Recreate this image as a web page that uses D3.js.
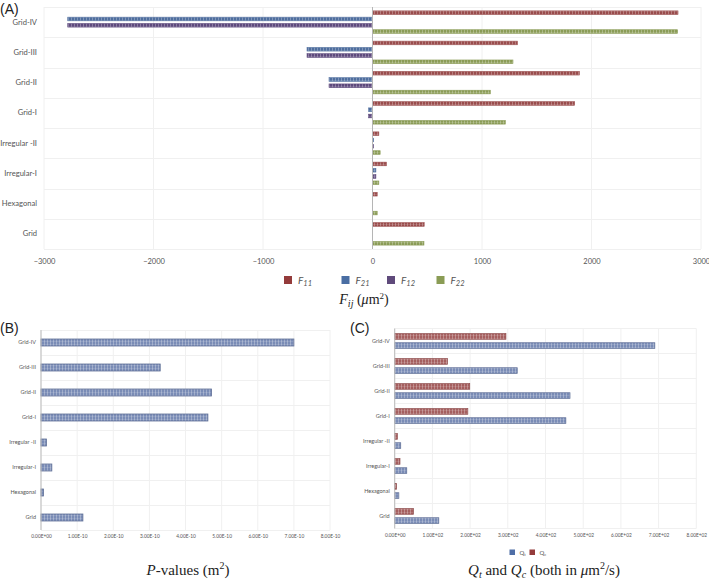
<!DOCTYPE html>
<html><head><meta charset="utf-8">
<script src="https://cdn.jsdelivr.net/npm/d3@7"></script>
<style>body{margin:0;background:#fff}svg{display:block}</style>
</head><body>
<svg id="c" width="709" height="581"></svg>
<script>
const categories = ["Grid-IV","Grid-III","Grid-II","Grid-I","Irregular -II","Irregular-I","Hexagonal","Grid"];
const F11 = [2790, 1323, 1889, 1846, 58, 128, 43, 472];
const F21 = [-2783, -598, -397, -35, 10, 31, 0, 0];
const F12 = [-2783, -598, -397, -35, 9, 31, 0, 0];
const F22 = [2787, 1283, 1076, 1213, 70, 58, 43, 470];
const Pvalues = [7.00e-10, 3.30e-10, 4.72e-10, 4.62e-10, 0.15e-10, 0.30e-10, 0.07e-10, 1.16e-10];
const Qt = [690, 325, 465, 454, 16, 32, 11, 117];
const Qc = [295, 140, 199, 194, 7, 14, 5, 50];
const ticksA = [-3000,-2000,-1000,0,1000,2000,3000];
const ticksB = [0,1e-10,2e-10,3e-10,4e-10,5e-10,6e-10,7e-10,8e-10];
const ticksC = [0,100,200,300,400,500,600,700,800];

const colors = {F11:"#9a4d4d", F21:"#4f6e9e", F12:"#5e4a7d", F22:"#8b9c57", blue:"#7a8cb6", red:"#a55f5f"};
const legendColors = {F11:"#943b3b", F21:"#4a6ea3", F12:"#5f4a7b", F22:"#8a9c55"};

const svg = d3.select("#c");
const defs = svg.append("defs");
function pat(id, col){
  const p = defs.append("pattern").attr("id",id).attr("patternUnits","userSpaceOnUse").attr("width",3).attr("height",3);
  p.append("rect").attr("width",3).attr("height",3).attr("fill",col);
  p.append("rect").attr("x",2).attr("width",1).attr("height",3).attr("fill","#fff").attr("opacity",0.28);
  p.append("rect").attr("y",2).attr("width",3).attr("height",1).attr("fill","#fff").attr("opacity",0.12);
}
Object.keys(colors).forEach(k=>pat("p"+k, colors[k]));

const sans = "Lato, 'Open Sans', sans-serif";
const serif = "'Liberation Serif', 'DejaVu Serif', serif";

// ---------- Panel A ----------
const xA = d3.scaleLinear().domain([-3000,3000]).range([44,701]);
const yA = d3.scaleBand().domain(categories).range([7,249]);
const seriesA = ["F11","F21","F12","F22"];
const valsA = {F11, F21, F12, F22};
const subA = d3.scaleBand().domain(seriesA).range([0,yA.bandwidth()]).paddingInner(0.42).paddingOuter(0.62);
const gA = svg.append("g");
gA.selectAll(".vg").data(ticksA).join("line").attr("x1",d=>xA(d)).attr("x2",d=>xA(d)).attr("y1",7).attr("y2",249).attr("stroke","#f0f0f0");
gA.selectAll(".hg").data(d3.range(categories.length+1)).join("line")
  .attr("x1",44).attr("x2",701).attr("y1",i=>Math.round(7+i*yA.step())+0.5).attr("y2",i=>Math.round(7+i*yA.step())+0.5).attr("stroke","#f0f0f0");
seriesA.forEach(s=>{
  gA.selectAll(".b"+s).data(categories).join("rect")
    .attr("x",(d,i)=>xA(Math.min(0,valsA[s][i])))
    .attr("width",(d,i)=>Math.abs(xA(valsA[s][i])-xA(0)))
    .attr("y",d=>yA(d)+subA(s)).attr("height",subA.bandwidth())
    .attr("fill","url(#p"+s+")").attr("stroke",colors[s]).attr("stroke-width",0.6)
    .style("display",(d,i)=>valsA[s][i]===0?"none":null);
});
gA.append("line").attr("x1",xA(0)).attr("x2",xA(0)).attr("y1",7).attr("y2",249).attr("stroke","#b5b5b5").attr("stroke-width",1);
const axA = gA.append("g").attr("transform","translate(0,249)").call(d3.axisBottom(xA).tickValues(ticksA).tickSize(0).tickPadding(10).tickFormat(d3.format("d")));
axA.select(".domain").remove();
axA.selectAll("text").attr("font-family",sans).attr("font-size",7.5).attr("fill","#555");
const ayA = gA.append("g").attr("transform","translate(44,0)").call(d3.axisLeft(yA).tickSize(0).tickPadding(7));
ayA.select(".domain").remove();
ayA.selectAll("text").attr("font-family",sans).attr("font-size",7.6).attr("fill","#555");
svg.append("text").attr("x",0).attr("y",14).text("(A)").attr("font-family","'Liberation Sans', Arial, sans-serif").attr("font-size",14).attr("fill","#222");
const legA = [{s:"F11",x:284,sub:"11"},{s:"F21",x:341.5,sub:"21"},{s:"F12",x:387,sub:"12"},{s:"F22",x:436.5,sub:"22"}];
legA.forEach(l=>{
  svg.append("rect").attr("x",l.x).attr("y",276).attr("width",8).attr("height",8).attr("fill",legendColors[l.s]);
  const t = svg.append("text").attr("x",l.x+14).attr("y",284).attr("font-family",sans).attr("font-style","italic").attr("font-size",10).attr("fill","#555");
  t.append("tspan").text("F");
  t.append("tspan").attr("font-size",7.5).attr("dy",1.5).text(l.sub);
});
const tA = svg.append("text").attr("x",364).attr("y",304).attr("text-anchor","middle").attr("font-family",serif).attr("font-size",14).attr("fill","#222");
tA.append("tspan").attr("font-style","italic").text("F");
tA.append("tspan").attr("font-style","italic").attr("font-size",10).attr("dy",3).text("ij");
tA.append("tspan").attr("dy",-3).text(" (");
tA.append("tspan").attr("font-style","italic").text("μ");
tA.append("tspan").text("m");
tA.append("tspan").attr("font-size",9).attr("dy",-5).text("2");
tA.append("tspan").attr("dy",5).text(")");

// ---------- Panel B ----------
const xB = d3.scaleLinear().domain([0,8e-10]).range([41,330]);
const yB = d3.scaleBand().domain(categories).range([330,530]);
const gB = svg.append("g");
gB.selectAll(".vg").data(ticksB).join("line").attr("x1",d=>xB(d)).attr("x2",d=>xB(d)).attr("y1",330).attr("y2",530).attr("stroke","#f0f0f0");
gB.selectAll(".hg").data(d3.range(categories.length+1)).join("line")
  .attr("x1",41).attr("x2",330).attr("y1",i=>330.5+i*yB.step()).attr("y2",i=>330.5+i*yB.step()).attr("stroke","#f0f0f0");
const bhB = yB.bandwidth()*0.28;
gB.selectAll(".bar").data(categories).join("rect")
  .attr("x",xB(0)).attr("width",(d,i)=>xB(Pvalues[i])-xB(0))
  .attr("y",d=>yB(d)+yB.bandwidth()/2-bhB/2).attr("height",bhB)
  .attr("fill","url(#pblue)").attr("stroke","#5f6f96").attr("stroke-width",0.8);
gB.append("line").attr("x1",41).attr("x2",41).attr("y1",330).attr("y2",530).attr("stroke","#bbb");
const fmtB = d=> d===0 ? "0.00E+00" : (d/1e-10).toFixed(2)+"E-10";
const axB = gB.append("g").attr("transform","translate(0,530)").call(d3.axisBottom(xB).tickValues(ticksB).tickSize(0).tickPadding(5).tickFormat(fmtB));
axB.select(".domain").remove();
axB.selectAll("text").attr("font-family",sans).attr("font-size",4.8).attr("fill","#555");
const ayB = gB.append("g").attr("transform","translate(41,0)").call(d3.axisLeft(yB).tickSize(0).tickPadding(5));
ayB.select(".domain").remove();
ayB.selectAll("text").attr("font-family",sans).attr("font-size",5.5).attr("fill","#555");
svg.append("text").attr("x",0).attr("y",333).text("(B)").attr("font-family","'Liberation Sans', Arial, sans-serif").attr("font-size",14).attr("fill","#222");
const tB = svg.append("text").attr("x",188).attr("y",575).attr("text-anchor","middle").attr("font-family",serif).attr("font-size",15).attr("fill","#222");
tB.append("tspan").attr("font-style","italic").text("P");
tB.append("tspan").text("-values (m");
tB.append("tspan").attr("font-size",10).attr("dy",-6).text("2");
tB.append("tspan").attr("dy",6).text(")");

// ---------- Panel C ----------
const xC = d3.scaleLinear().domain([0,800]).range([394.7,696.3]);
const yC = d3.scaleBand().domain(categories).range([328.5,528.5]);
const subC = d3.scaleBand().domain(["Qc","Qt"]).range([0,yC.bandwidth()]).paddingInner(0.38).paddingOuter(0.56);
const gC = svg.append("g");
gC.selectAll(".vg").data(ticksC).join("line").attr("x1",d=>xC(d)).attr("x2",d=>xC(d)).attr("y1",328.5).attr("y2",528.5).attr("stroke","#f0f0f0");
gC.selectAll(".hg").data(d3.range(categories.length+1)).join("line")
  .attr("x1",394.7).attr("x2",696.3).attr("y1",i=>328.5+i*yC.step()).attr("y2",i=>328.5+i*yC.step()).attr("stroke","#f0f0f0");
const valsC = {Qc, Qt};
[["Qc","pred","#8e4c4c"],["Qt","pblue","#5f6f96"]].forEach(([s,p,st])=>{
  gC.selectAll(".b"+s).data(categories).join("rect")
    .attr("x",xC(0)).attr("width",(d,i)=>xC(valsC[s][i])-xC(0))
    .attr("y",d=>yC(d)+subC(s)).attr("height",subC.bandwidth())
    .attr("fill","url(#"+p+")").attr("stroke",st).attr("stroke-width",0.7);
});
gC.append("line").attr("x1",394.7).attr("x2",394.7).attr("y1",328.5).attr("y2",528.5).attr("stroke","#bbb");
const fmtC = d=> d===0 ? "0.00E+00" : (d/100).toFixed(2)+"E+02";
const axC = gC.append("g").attr("transform","translate(0,528.5)").call(d3.axisBottom(xC).tickValues(ticksC).tickSize(0).tickPadding(5).tickFormat(fmtC));
axC.select(".domain").remove();
axC.selectAll("text").attr("font-family",sans).attr("font-size",4.8).attr("fill","#555");
const ayC = gC.append("g").attr("transform","translate(394.7,0)").call(d3.axisLeft(yC).tickSize(0).tickPadding(5));
ayC.select(".domain").remove();
ayC.selectAll("text").attr("font-family",sans).attr("font-size",5.5).attr("fill","#555");
svg.append("text").attr("x",350).attr("y",333).text("(C)").attr("font-family","'Liberation Sans', Arial, sans-serif").attr("font-size",14).attr("fill","#222");
[{c:"#4f6ea6",x:509.5,sub:"t"},{c:"#943b3b",x:529.5,sub:"c"}].forEach(l=>{
  svg.append("rect").attr("x",l.x).attr("y",549.5).attr("width",5.5).attr("height",5.5).attr("fill",l.c);
  const t = svg.append("text").attr("x",l.x+10).attr("y",555).attr("font-family",sans).attr("font-size",6).attr("fill","#555");
  t.append("tspan").text("Q");
  t.append("tspan").attr("font-size",4).attr("dy",1).text(l.sub);
});
const tC = svg.append("text").attr("x",544).attr("y",575).attr("text-anchor","middle").attr("font-family",serif).attr("font-size",15).attr("fill","#222");
tC.append("tspan").attr("font-style","italic").text("Q");
tC.append("tspan").attr("font-style","italic").attr("font-size",10).attr("dy",3).text("t");
tC.append("tspan").attr("dy",-3).text(" and ");
tC.append("tspan").attr("font-style","italic").text("Q");
tC.append("tspan").attr("font-style","italic").attr("font-size",10).attr("dy",3).text("c");
tC.append("tspan").attr("dy",-3).text(" (both in ");
tC.append("tspan").attr("font-style","italic").text("μ");
tC.append("tspan").text("m");
tC.append("tspan").attr("font-size",10).attr("dy",-6).text("2");
tC.append("tspan").attr("dy",6).text("/s)");
</script>
</body></html>
